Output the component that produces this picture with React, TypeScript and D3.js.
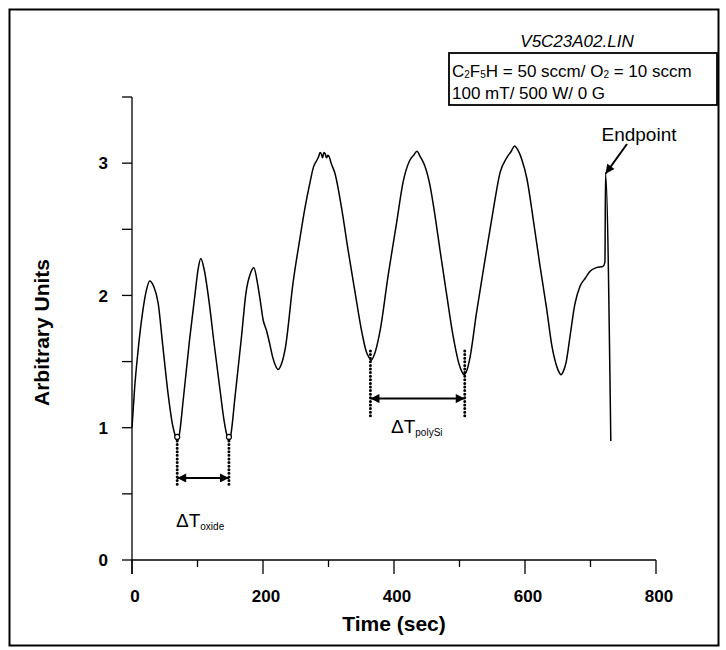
import React from "react";
import * as d3 from "d3";

// ---- data ----
const timeSec = [0, 4, 9, 17, 22, 27, 33, 40, 47, 55, 62, 66, 69, 72, 78, 88, 96, 101, 105, 110, 118, 125, 134, 141, 145, 148, 151, 157, 167, 174, 181, 186, 192, 197, 200, 205, 210, 215, 219, 223, 228, 234, 246, 256, 264, 272, 277, 282, 285, 287, 289, 291, 293, 295, 297, 299, 301, 304, 310, 320, 330, 340, 351, 358, 362, 365, 369, 379, 391, 404, 414, 424, 430, 435, 440, 447, 455, 463, 470, 480, 490, 500, 504, 507, 511, 516, 526, 539, 552, 562, 572, 579, 584, 589, 595, 603, 613, 623, 633, 641, 648, 652, 655, 658, 663, 669, 676, 684, 692, 699, 709, 719, 722, 723, 731];
const signal = [1.0, 1.3, 1.57, 1.9, 2.04, 2.11, 2.07, 1.94, 1.62, 1.26, 1.02, 0.94, 0.9, 0.94, 1.2, 1.67, 2.0, 2.2, 2.28, 2.2, 1.94, 1.65, 1.3, 1.04, 0.94, 0.9, 0.95, 1.22, 1.68, 2.02, 2.17, 2.21, 2.08, 1.92, 1.82, 1.74, 1.64, 1.53, 1.47, 1.44, 1.48, 1.6, 2.1, 2.42, 2.66, 2.86, 2.97, 3.02, 3.05, 3.08, 3.07, 3.04, 3.08, 3.07, 3.04, 3.06, 3.05, 3.0, 2.92, 2.66, 2.34, 2.04, 1.72, 1.57, 1.53, 1.51, 1.54, 1.74, 2.15, 2.55, 2.86, 3.02, 3.06, 3.09, 3.05, 2.98, 2.83, 2.59, 2.35, 2.02, 1.7, 1.47, 1.42, 1.4, 1.43, 1.53, 1.87, 2.27, 2.66, 2.93, 3.04, 3.09, 3.13, 3.1, 3.03, 2.88, 2.56, 2.22, 1.9, 1.62, 1.47, 1.42, 1.4, 1.42, 1.5, 1.7, 1.93, 2.07, 2.13, 2.18, 2.21, 2.22, 2.25, 2.92, 0.9];

const xTicks = [0, 100, 200, 300, 400, 500, 600, 700, 800];
const xTickLabels = [0, 200, 400, 600, 800];
const yTicks = [0, 0.5, 1, 1.5, 2, 2.5, 3, 3.5];
const yTickLabels = [0, 1, 2, 3];

const oxideMarks = [69, 148];       // sec
const oxideMarkValue = 0.93;
const oxideDots = [0.93, 0.55];     // top / bottom of dotted lines
const oxideArrowValue = 0.62;

const polyMarks = [364, 508];
const polyDots = [1.58, 1.07];
const polyArrowValue = 1.22;

const endpointTime = 723;
const endpointValue = 2.92;

const titleText = "V5C23A02.LIN";
const condLine2 = "100 mT/ 500 W/ 0 G";

const FONT = "'Liberation Sans', Arial, Helvetica, sans-serif";

export default function App() {
  const W = 726, H = 650;
  const x = d3.scaleLinear().domain([0, 800]).range([132, 656]);
  const y = d3.scaleLinear().domain([0, 3.5]).range([560, 97]);

  const pts = timeSec.map((t, i) => [t, signal[i]] as [number, number]);
  const line = d3
    .line<[number, number]>()
    .x((d) => x(d[0]))
    .y((d) => y(d[1]))
    .curve(d3.curveMonotoneX);

  const dotted = { stroke: "#000", strokeWidth: 3, strokeDasharray: "0 3.6", strokeLinecap: "round" as const };

  return (
    <svg width={W} height={H} style={{ display: "block", position: "absolute", left: 0, top: 0 }} fontFamily={FONT}>
      <defs>
        <marker id="ah" viewBox="0 0 10 10" refX="10" refY="5" markerWidth="11" markerHeight="9" markerUnits="userSpaceOnUse" orient="auto-start-reverse">
          <path d="M0,0 L10,5 L0,10 z" fill="#000" />
        </marker>
        <marker id="ah2" viewBox="0 0 10 10" refX="10" refY="5" markerWidth="15" markerHeight="9" markerUnits="userSpaceOnUse" orient="auto-start-reverse">
          <path d="M0,0 L10,5 L0,10 z" fill="#000" />
        </marker>
      </defs>
      <rect x={0} y={0} width={W} height={H} fill="#fff" />
      {/* frame */}
      <rect x={9.5} y={9.5} width={709} height={636} fill="none" stroke="#000" strokeWidth={2} />

      {/* y axis */}
      <line x1={x(0)} x2={x(0)} y1={y(3.5)} y2={y(0) + 14} stroke="#000" strokeWidth={1.3} />
      {yTicks.map((v) => (
        <line key={"yt" + v} x1={x(0) - 10} x2={x(0)} y1={y(v)} y2={y(v)} stroke="#000" strokeWidth={1.3} />
      ))}
      {yTickLabels.map((v) => (
        <text key={"yl" + v} x={x(0) - 24} y={y(v)} dy="0.36em" textAnchor="end" fontSize={17} fontWeight="bold">
          {v}
        </text>
      ))}

      {/* x axis */}
      <line x1={x(0)} x2={x(800)} y1={y(0)} y2={y(0)} stroke="#000" strokeWidth={1.3} />
      {xTicks.map((t) => (
        <line key={"xt" + t} x1={x(t)} x2={x(t)} y1={y(0)} y2={y(0) + (t % 200 === 0 ? 14 : 7)} stroke="#000" strokeWidth={1.3} />
      ))}
      {xTickLabels.map((t) => (
        <text key={"xl" + t} x={x(t) + 3} y={596} dy="0.36em" textAnchor="middle" fontSize={17} fontWeight="bold">
          {t}
        </text>
      ))}

      {/* axis titles */}
      <text x={x(400)} y={623} dy="0.36em" textAnchor="middle" fontSize={21} fontWeight="bold">
        Time (sec)
      </text>
      <text transform={`translate(41,${(y(0) + y(3.5)) / 2 + 4}) rotate(-90)`} dy="0.36em" textAnchor="middle" fontSize={21} fontWeight="bold">
        Arbitrary Units
      </text>

      {/* signal */}
      <path d={line(pts) ?? ""} fill="none" stroke="#000" strokeWidth={1.5} strokeLinejoin="round" />

      {/* oxide annotation */}
      {oxideMarks.map((t) => (
        <g key={"om" + t}>
          <line x1={x(t)} x2={x(t)} y1={y(oxideDots[0]) + 4} y2={y(oxideDots[1])} {...dotted} />
          <circle cx={x(t)} cy={y(oxideMarkValue)} r={2.5} fill="#fff" stroke="#000" strokeWidth={1.2} />
        </g>
      ))}
      <line x1={x(oxideMarks[0])} x2={x(oxideMarks[1])} y1={y(oxideArrowValue)} y2={y(oxideArrowValue)} stroke="#000" strokeWidth={2} markerStart="url(#ah)" markerEnd="url(#ah)" />
      <text x={176} y={527} fontSize={19}>
        ΔT<tspan fontSize={10} dy={3}>oxide</tspan>
      </text>

      {/* polySi annotation */}
      {polyMarks.map((t) => (
        <line key={"pm" + t} x1={x(t)} x2={x(t)} y1={y(polyDots[0])} y2={y(polyDots[1])} {...dotted} />
      ))}
      <line x1={x(polyMarks[0])} x2={x(polyMarks[1])} y1={y(polyArrowValue)} y2={y(polyArrowValue)} stroke="#000" strokeWidth={2} markerStart="url(#ah2)" markerEnd="url(#ah2)" />
      <text x={391} y={433} fontSize={19}>
        ΔT<tspan fontSize={10} dy={3}>polySi</tspan>
      </text>

      {/* endpoint */}
      <text x={639} y={141} textAnchor="middle" fontSize={19}>
        Endpoint
      </text>
      <line x1={627} y1={144} x2={x(endpointTime)} y2={y(endpointValue)} stroke="#000" strokeWidth={2} markerEnd="url(#ah2)" />

      {/* title & condition box */}
      <text x={577} y={41} dy="0.36em" textAnchor="middle" fontSize={17} fontStyle="italic">
        {titleText}
      </text>
      <rect x={449} y={53} width={268} height={52} fill="none" stroke="#000" strokeWidth={1.8} />
      <text x={452} y={77} fontSize={17}>
        C<tspan fontSize={10} dy={1}>2</tspan>
        <tspan dy={-1}>F</tspan>
        <tspan fontSize={10} dy={1}>5</tspan>
        <tspan dy={-1}>H = 50 sccm/ O</tspan>
        <tspan fontSize={10} dy={1}>2</tspan>
        <tspan dy={-1}> = 10 sccm</tspan>
      </text>
      <text x={452} y={99} fontSize={17}>
        {condLine2}
      </text>
    </svg>
  );
}
